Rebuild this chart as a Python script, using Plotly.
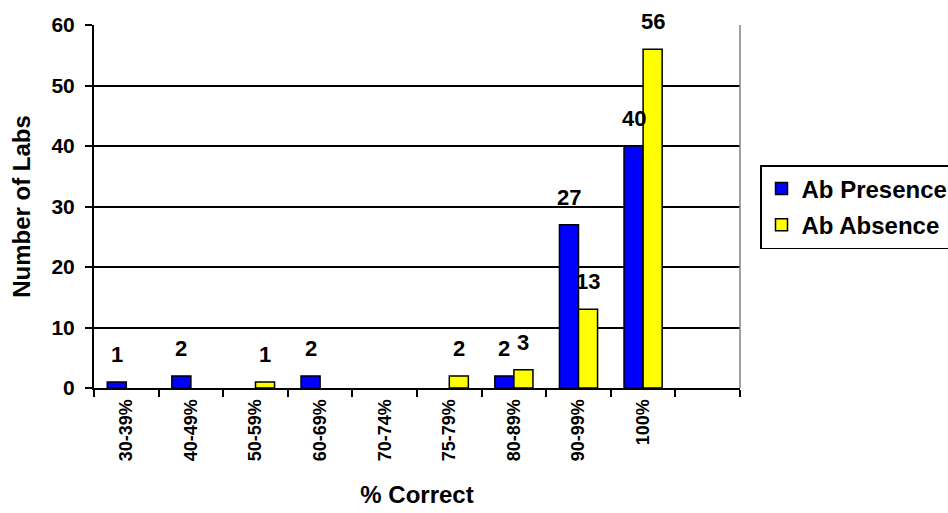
import plotly.graph_objects as go

# Score bands and lab counts for each antibody panel
categories = ["30-39%", "40-49%", "50-59%", "60-69%", "70-74%",
              "75-79%", "80-89%", "90-99%", "100%"]
ab_presence = [1, 2, 0, 2, 0, 0, 2, 27, 40]
ab_absence = [0, 0, 1, 0, 0, 2, 3, 13, 56]
series_names = ["Ab Presence", "Ab Absence"]
series_colors = ["#0000FF", "#FFFF00"]
y_ticks = [0, 10, 20, 30, 40, 50, 60]

FONT = "Liberation Sans, Arial, sans-serif"
n_slots = len(categories) + 1          # one trailing empty slot on the axis
bargap = 0.41
bar_w = (1 - bargap) / 2               # width of one bar in category units


def bold(size):
    return dict(family=FONT, size=size, color="#000000", weight="bold")


fig = go.Figure()
annotations = []
for k, (name, vals, col) in enumerate(zip(series_names, [ab_presence, ab_absence], series_colors)):
    xs = list(range(len(categories)))
    fig.add_trace(go.Bar(
        name=name,
        x=xs,
        y=[v if v else None for v in vals],
        marker=dict(color=col, line=dict(color="#000000", width=1.5)),
        legendgroup=name,
    ))
    offset = (k - 0.5) * bar_w
    for i, v in enumerate(vals):
        if v:
            annotations.append(dict(
                x=i + offset, y=v, xref="x", yref="y",
                text=str(v), showarrow=False, yanchor="bottom", yshift=13,
                font=bold(22),
            ))

# gray right-hand border of the plotting area
fig.add_shape(type="line", xref="x domain", yref="y domain",
              x0=1, x1=1, y0=0, y1=1,
              line=dict(color="#808080", width=1.5))

fig.update_layout(
    width=948, height=513,
    margin=dict(l=94, r=208, t=25, b=125),
    paper_bgcolor="white", plot_bgcolor="white",
    barmode="group", bargap=bargap, bargroupgap=0,
    font=bold(19),
    annotations=annotations,
    showlegend=True,
    legend=dict(
        xref="container", yref="container",
        x=760 / 948, y=1 - 165 / 513, xanchor="left", yanchor="top",
        bordercolor="#000000", borderwidth=1.5,
        font=bold(24),
        traceorder="grouped", tracegroupgap=2,
        itemwidth=30,
    ),
    xaxis=dict(
        range=[-0.5, n_slots - 0.5],
        tickmode="array",
        tickvals=list(range(len(categories))),
        ticktext=categories,
        tickangle=-90,
        ticks="",
        ticklabelstandoff=2,
        tickfont=bold(18),
        showline=True, linecolor="#000000", linewidth=2,
        showgrid=False, zeroline=False,
        minor=dict(tickmode="array",
                   tickvals=[i - 0.5 for i in range(n_slots + 1)],
                   ticks="outside", ticklen=7, tickwidth=1.5,
                   tickcolor="#000000", showgrid=False),
        title=dict(text="% Correct", standoff=26, font=bold(24)),
        automargin=False,
    ),
    yaxis=dict(
        range=[0, 60],
        tickmode="array", tickvals=y_ticks,
        ticks="outside", ticklen=7, tickwidth=1.5, tickcolor="#000000",
        ticklabelstandoff=6,
        tickfont=bold(21),
        showline=True, linecolor="#000000", linewidth=2,
        showgrid=True, gridcolor="#000000", gridwidth=1.5,
        zeroline=False,
        title=dict(text="Number of Labs", standoff=14, font=bold(24)),
        automargin=False,
    ),
)

fig.write_html("out.html")
